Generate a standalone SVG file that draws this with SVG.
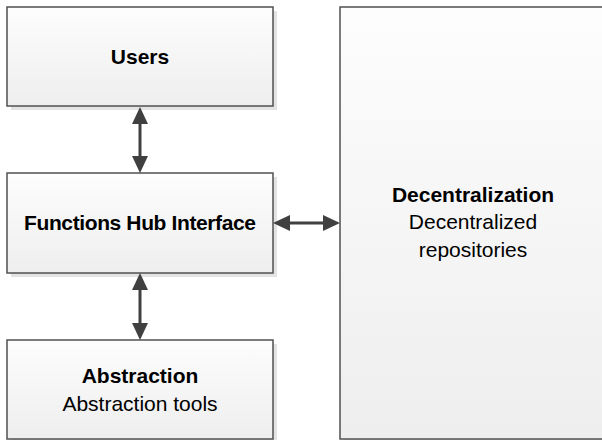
<svg xmlns="http://www.w3.org/2000/svg" width="602" height="440" viewBox="0 0 602 440">
<defs>
<linearGradient id="fill" x1="0" y1="0" x2="0" y2="1">
<stop offset="0" stop-color="#fdfdfd"/>
<stop offset="1" stop-color="#eeeeee"/>
</linearGradient>
<marker id="head" viewBox="0 0 17 16" refX="0" refY="8" markerWidth="17" markerHeight="16" markerUnits="userSpaceOnUse" orient="auto-start-reverse">
<path d="M0,0 L17,8 L0,16 z" fill="#404040"/>
</marker>
</defs>
<style>
.shadow{fill:#e3e3e3;}
.box{fill:url(#fill);stroke:#505050;stroke-width:1.5;}
.t{font-family:"Liberation Sans",Arial,sans-serif;font-size:21px;fill:#000;text-anchor:middle;}
.b{font-weight:bold;}
.conn{stroke:#404040;stroke-width:3;fill:none;marker-start:url(#head);marker-end:url(#head);}
</style>
<rect width="602" height="440" fill="#ffffff"/>
<g id="users">
<rect class="shadow" x="11" y="11" width="266" height="99"/>
<rect class="box" x="7" y="7" width="266" height="99"/>
<text class="t b" x="140" y="64">Users</text>
</g>
<g id="functions-hub">
<rect class="shadow" x="11" y="177" width="266" height="100"/>
<rect class="box" x="7" y="173" width="266" height="100"/>
<text class="t b" x="140" y="230" textLength="232">Functions Hub Interface</text>
</g>
<g id="abstraction">
<rect class="shadow" x="11" y="344" width="266" height="100"/>
<rect class="box" x="7" y="340" width="266" height="99"/>
<text class="t b" x="140" y="383">Abstraction</text>
<text class="t" x="140" y="411">Abstraction tools</text>
</g>
<g id="decentralization">
<rect class="shadow" x="344" y="11" width="266" height="432"/>
<rect class="box" x="340" y="7" width="266" height="432"/>
<text class="t b" x="473" y="202">Decentralization</text>
<text class="t" x="473" y="229">Decentralized</text>
<text class="t" x="473" y="257">repositories</text>
</g>
<g id="connectors">
<line class="conn" x1="140" y1="124" x2="140" y2="156"/>
<line class="conn" x1="140" y1="290" x2="140" y2="323"/>
<line class="conn" x1="290" y1="223" x2="323" y2="223"/>
</g>
</svg>
